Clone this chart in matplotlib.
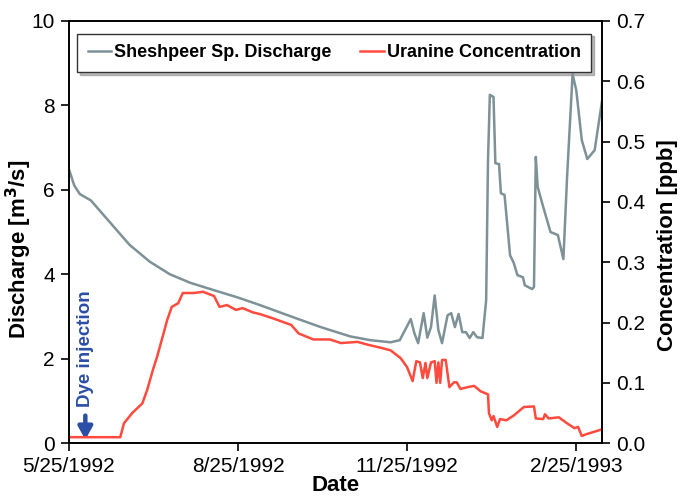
import pandas as pd
import matplotlib
matplotlib.use("Agg")
import matplotlib.pyplot as plt

plt.rcParams['font.family'] = ['Liberation Sans', 'DejaVu Sans']

# Data (days after 5/25/1992)
start = pd.Timestamp("1992-05-25")

q_days = [0, 3, 6, 12, 17, 25, 33, 44, 55, 66, 77, 92, 104, 121, 137, 153, 164, 175, 180,
          186, 188, 190, 193, 195, 197, 199, 201, 203, 206, 208, 210, 212, 214, 216, 218,
          220, 222, 225, 227, 228, 229, 231, 232, 234, 235, 237, 240, 242, 244, 247, 248,
          252, 253, 254, 255, 258, 262, 266, 269, 271, 274, 276, 279, 282, 286, 290]
q_vals = [6.5, 6.1, 5.9, 5.75, 5.5, 5.1, 4.7, 4.3, 4.0, 3.8, 3.65, 3.45, 3.27, 3.0, 2.75,
          2.53, 2.44, 2.39, 2.44, 2.94, 2.6, 2.37, 3.08, 2.5, 2.75, 3.5, 2.68, 2.37, 3.03,
          3.08, 2.75, 3.06, 2.63, 2.63, 2.49, 2.63, 2.51, 2.49, 3.39, 6.7, 8.25, 8.2, 6.63,
          6.61, 5.92, 5.88, 4.45, 4.27, 3.98, 3.93, 3.74, 3.65, 3.7, 6.78, 6.07, 5.6, 5.0,
          4.93, 4.36, 6.3, 8.74, 8.36, 7.18, 6.73, 6.94, 8.1]

c_days = [0, 28, 30, 34.5, 40, 42.6, 46, 48, 51, 53.5, 56, 59.5, 62, 68, 73, 79, 82, 86,
          91, 94.5, 100, 104, 111, 121, 125, 133, 142, 148, 157, 163, 170, 175, 180.5, 184,
          187, 189, 191, 192.5, 194, 195, 197, 199, 200, 201, 202, 203, 205, 207, 209.5,
          211, 213, 217, 220.5, 224, 228, 228.5, 230, 231, 233, 234.5, 238, 242, 247.5,
          253, 254, 258, 259, 261, 266.5, 271, 275, 277, 279, 281.5, 290]
c_vals = [0.01, 0.01, 0.033, 0.05, 0.066, 0.088, 0.124, 0.143, 0.176, 0.204, 0.226, 0.232,
          0.249, 0.249, 0.251, 0.244, 0.226, 0.229, 0.221, 0.224, 0.217, 0.214, 0.207,
          0.196, 0.182, 0.172, 0.172, 0.166, 0.168, 0.163, 0.158, 0.154, 0.141, 0.126,
          0.103, 0.136, 0.134, 0.108, 0.133, 0.108, 0.134, 0.136, 0.1, 0.134, 0.1, 0.138,
          0.138, 0.093, 0.101, 0.101, 0.09, 0.093, 0.095, 0.086, 0.081, 0.05, 0.038, 0.045,
          0.027, 0.04, 0.038, 0.046, 0.06, 0.061, 0.041, 0.04, 0.048, 0.041, 0.043, 0.033,
          0.025, 0.027, 0.012, 0.015, 0.023]

tick_dates = ["1992-05-25", "1992-08-25", "1992-11-25", "1993-02-25"]

q_dates = start + pd.to_timedelta(q_days, unit="D")
c_dates = start + pd.to_timedelta(c_days, unit="D")

gray = "#7d9196"
red = "#ff4a3d"
blue = "#2b4ea6"

fig = plt.figure(figsize=(6.81, 4.98), dpi=100)
ax = fig.add_axes([0.101, 0.11, 0.783, 0.848])
ax2 = ax.twinx()

l1, = ax.plot(q_dates, q_vals, color=gray, lw=1.8, label="Sheshpeer Sp. Discharge")
l2, = ax2.plot(c_dates, c_vals, color=red, lw=1.8, label="Uranine Concentration")

ax.set_xlim(start, start + pd.Timedelta(days=290))
ax.set_ylim(0, 10)
ax2.set_ylim(0, 0.7)
ax.set_yticks([0, 2, 4, 6, 8, 10])
ax2.set_yticks([0.0, 0.1, 0.2, 0.3, 0.4, 0.5, 0.6, 0.7])
ax2.set_yticklabels([f"{v:.1f}" for v in ax2.get_yticks()])

ticks = pd.to_datetime(tick_dates)
ax.set_xticks(ticks)
ax.set_xticklabels([f"{d.month}/{d.day}/{d.year}" for d in ticks])

for a in (ax, ax2):
    a.tick_params(labelsize=15, length=6, width=1.2, direction="out", pad=4)
    for s in a.spines.values():
        s.set_linewidth(1.2)

ax.set_xlabel("Date", fontsize=16, fontweight="bold", labelpad=-1)
ax.set_ylabel("Discharge [m$\\mathbf{^3}$/s]", fontsize=16, fontweight="bold")
ax2.set_ylabel("Concentration [ppb]", fontsize=16, fontweight="bold")
ax.yaxis.set_label_coords(-0.066, 0.46)
ax2.yaxis.set_label_coords(1.103, 0.47)

# Dye injection marker
inj = start + pd.Timedelta(days=9)
ax.annotate("", xy=(inj, 0.02), xytext=(inj, 0.72),
            arrowprops=dict(arrowstyle="-|>,head_length=0.5,head_width=0.28",
                            color=blue, lw=3.2, mutation_scale=15))
ax.text(inj, 0.85, "Dye injection", rotation=90, color=blue, fontsize=13.5,
        fontweight="bold", ha="center", va="bottom")

leg = ax.legend([l1, l2], [l1.get_label(), l2.get_label()], loc="upper center",
                bbox_to_anchor=(0.498, 0.97), ncol=2, fancybox=False,
                shadow={"color": "0.55", "alpha": 0.6}, borderaxespad=0,
                prop={"weight": "bold", "size": 13}, handlelength=1.3,
                handletextpad=0.15, columnspacing=1.6, borderpad=0.6)
leg.get_frame().set_edgecolor("#333333")
leg.get_frame().set_linewidth(1.0)

fig.savefig("out.png", dpi=100)
